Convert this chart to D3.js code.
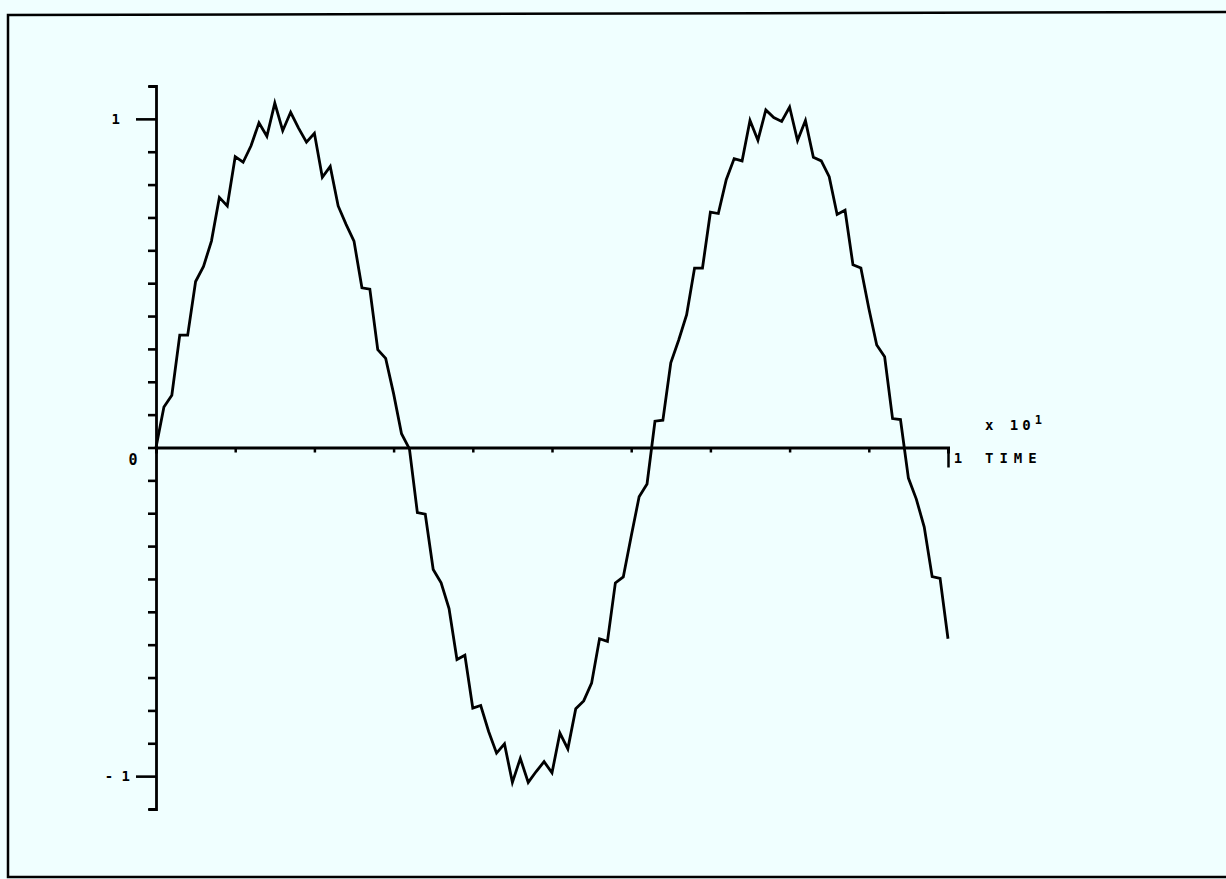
<!DOCTYPE html>
<html>
<head>
<meta charset="utf-8">
<script src="https://cdn.jsdelivr.net/npm/d3@7"></script>
<style>
  html, body { margin: 0; padding: 0; background: #f0ffff; }
  svg { display: block; }
  text { font-family: "DejaVu Sans Mono", monospace; font-weight: bold; fill: #000; }
</style>
</head>
<body>
<svg id="chart" width="1226" height="879"></svg>
<script>
// Sampled signal, one reading every 0.1 time units from t = 0 to t = 10
const signal = [
  0.000, 0.123, 0.159, 0.342, 0.342, 0.505, 0.551, 0.628, 0.761, 0.735,
  0.885, 0.868, 0.918, 0.988, 0.947, 1.048, 0.964, 1.020, 0.972, 0.929,
  0.956, 0.822, 0.855, 0.735, 0.679, 0.628, 0.486, 0.482, 0.298, 0.271,
  0.164, 0.042, -0.004, -0.198, -0.203, -0.371, -0.412, -0.490, -0.645, -0.632,
  -0.793, -0.785, -0.864, -0.930, -0.902, -1.019, -0.946, -1.019, -0.986, -0.956,
  -0.990, -0.869, -0.917, -0.795, -0.771, -0.717, -0.582, -0.590, -0.412, -0.394,
  -0.270, -0.150, -0.111, 0.080, 0.083, 0.258, 0.327, 0.404, 0.546, 0.546,
  0.716, 0.712, 0.815, 0.879, 0.872, 0.995, 0.935, 1.027, 1.004, 0.992,
  1.036, 0.934, 0.995, 0.883, 0.872, 0.824, 0.709, 0.722, 0.556, 0.546,
  0.424, 0.312, 0.276, 0.088, 0.085, -0.093, -0.157, -0.242, -0.393, -0.398,
  -0.582
];
const sampleStep = 0.01;          // spacing of samples, in units of x 10^1
const timeDomain = [0, 1];        // time axis, x 10^1
const valueDomain = [-1.1, 1.1];
const yTicks = [-1.1, -1.0, -0.9, -0.8, -0.7, -0.6, -0.5, -0.4, -0.3, -0.2, -0.1,
                0, 0.1, 0.2, 0.3, 0.4, 0.5, 0.6, 0.7, 0.8, 0.9, 1.0, 1.1];
const xTicks = [0, 0.1, 0.2, 0.3, 0.4, 0.5, 0.6, 0.7, 0.8, 0.9, 1.0];
const yLabels = [{v: 1, t: "1", gap: 36}, {v: -1, t: "- 1", gap: 26}];
const axisTitle = "TIME";
const scaleNote = "x 10";
const scaleExp = "1";

const svg = d3.select("#chart");

// page frame
svg.append("path")
  .attr("d", "M1230,12 L8,15 L8,877 L1230,877")
  .attr("fill", "none").attr("stroke", "#000").attr("stroke-width", 2.5);

const x = d3.scaleLinear().domain(timeDomain).range([156, 948]);
const y = d3.scaleLinear().domain(valueDomain).range([809, 86]);

// vertical axis with tenth ticks, long ticks at +/-1
const yAxis = d3.axisLeft(y)
  .tickValues(yTicks)
  .tickFormat("")
  .tickSizeOuter(0)
  .tickSize(7);
const gy = svg.append("g").attr("transform", `translate(${x(0)},0)`).call(yAxis);
gy.selectAll(".tick line")
  .attr("x2", d => (Math.abs(Math.abs(d) - 1) < 1e-9 ? -20 : -8))
  .attr("stroke-width", 2.6);
gy.select(".domain").attr("stroke-width", 2.8);

// horizontal axis along zero
const xAxis = d3.axisBottom(x)
  .tickValues(xTicks)
  .tickFormat("")
  .tickSizeOuter(0)
  .tickSize(6);
const gx = svg.append("g").attr("transform", `translate(0,${y(0)})`).call(xAxis);
gx.selectAll(".tick line")
  .attr("y2", d => (d === 1 ? 20 : 5))
  .attr("stroke-width", 2.5);
gx.select(".domain").attr("stroke-width", 3);

// tick labels
svg.selectAll("text.ylab").data(yLabels).enter().append("text")
  .attr("class", "ylab")
  .attr("x", d => x(0) - d.gap).attr("y", d => y(d.v) + 5)
  .attr("text-anchor", "end")
  .attr("font-size", 14)
  .text(d => d.t);
svg.append("text").attr("x", 133).attr("y", y(0) + 17)
  .attr("text-anchor", "middle").attr("font-size", 15).text("0");
svg.append("text").attr("x", x(1) + 10).attr("y", y(0) + 15)
  .attr("text-anchor", "middle").attr("font-size", 14).text("1");

// axis title and scale factor
const note = svg.append("text").attr("x", 985).attr("y", y(0) - 18)
  .attr("font-size", 14).attr("letter-spacing", 4);
note.append("tspan").text(scaleNote);
note.append("tspan").attr("dy", -6).attr("font-size", 12).text(scaleExp);
svg.append("text").attr("x", 985).attr("y", y(0) + 15)
  .attr("font-size", 14).attr("letter-spacing", 6).text(axisTitle);

// signal trace
const line = d3.line()
  .x((d, i) => x(i * sampleStep))
  .y(d => y(d));
svg.append("path")
  .datum(signal)
  .attr("d", line)
  .attr("fill", "none")
  .attr("stroke", "#000")
  .attr("stroke-width", 2.8)
  .attr("stroke-linejoin", "miter");
</script>
</body>
</html>
